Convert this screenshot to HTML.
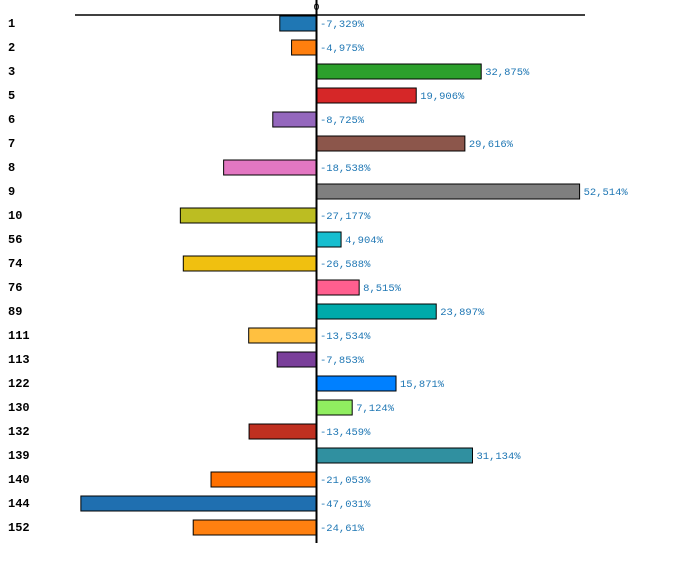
<!DOCTYPE html>
<html><head><meta charset="utf-8"><style>
html,body{margin:0;padding:0;background:#fff;width:700px;height:573px;overflow:hidden}
svg{display:block}
.cat{font-family:"Liberation Mono","DejaVu Sans Mono",monospace;font-weight:bold;font-size:12px;fill:#000}
.val{font-family:"Liberation Mono","DejaVu Sans Mono",monospace;font-size:10.5px;fill:#1f77b4}
</style></head><body>
<svg id="chart" width="700" height="573" xmlns="http://www.w3.org/2000/svg"></svg>
<script>
const categories=["1","2","3","5","6","7","8","9","10","56","74","76","89","111","113","122","130","132","139","140","144","152"];
const values=[-7.329,-4.975,32.875,19.906,-8.725,29.616,-18.538,52.514,-27.177,4.904,-26.588,8.515,23.897,-13.534,-7.853,15.871,7.124,-13.459,31.134,-21.053,-47.031,-24.61];
const valueLabels=["-7,329%","-4,975%","32,875%","19,906%","-8,725%","29,616%","-18,538%","52,514%","-27,177%","4,904%","-26,588%","8,515%","23,897%","-13,534%","-7,853%","15,871%","7,124%","-13,459%","31,134%","-21,053%","-47,031%","-24,61%"];
const colors=["#1f77b4","#ff7f0e","#2ca02c","#d62728","#9467bd","#8c564b","#e377c2","#7f7f7f","#bcbd22","#17becf","#f0c010","#ff5f8f","#00aaaa","#ffc040","#7a3f9a","#0080ff","#90ee60","#c03020","#3090a0","#ff7000","#1f6fb0","#ff8010"];
{
const svg=document.getElementById('chart');
const NS='http://www.w3.org/2000/svg';
const x0=316.5, k=5.01;
const xs=v=>x0+v*k;
const ys=i=>16+i*24;
function mk(t,a){const e=document.createElementNS(NS,t);for(const n in a)e.setAttribute(n,a[n]);svg.appendChild(e);return e;}
const topAxis=mk('line',{x1:75,y1:15,x2:585,y2:15,stroke:'#000','stroke-width':1.5});


const z=mk('text',{x:x0,y:10,'text-anchor':'middle',class:'val',style:'fill:#000;font-size:10px'});
z.textContent='0';


categories.forEach((c,i)=>{
  const v=values[i],y=ys(i);
  const x1=Math.min(xs(0),xs(v)),w=Math.abs(xs(v)-xs(0));
  const r=mk('rect',{x:x1,y:y,width:w,height:15,fill:colors[i],stroke:'#000','stroke-width':1});
  
  
  const t=mk('text',{x:8,y:y+11,class:'cat'});
  t.textContent=c;
  
  
  const lx=v>0?xs(v)+4:320;
  const l=mk('text',{x:lx,y:y+11,class:'val'});
  l.textContent=valueLabels[i];
  
  
});
const ax=mk('line',{x1:x0,y1:0,x2:x0,y2:543,stroke:'#000','stroke-width':2});


}
</script>
</body></html>
